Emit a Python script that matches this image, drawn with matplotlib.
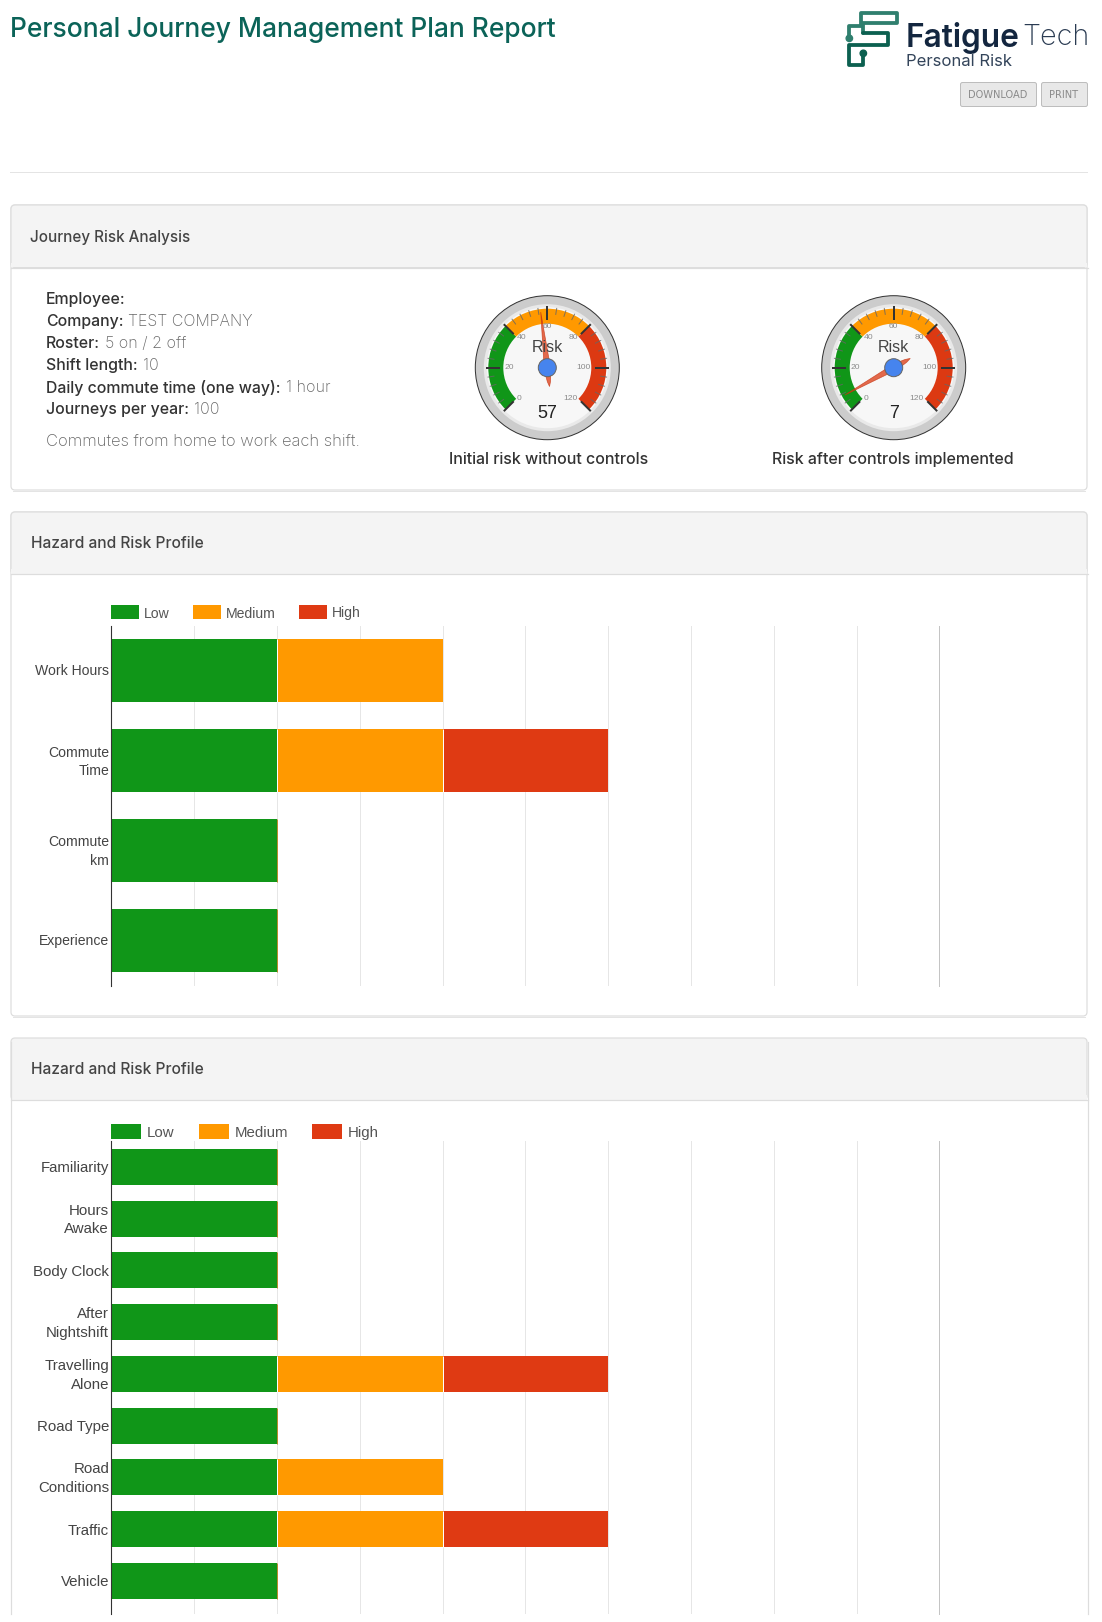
import numpy as np
import matplotlib
matplotlib.use("Agg")
import matplotlib.pyplot as plt
from matplotlib.patches import Rectangle, FancyBboxPatch, Circle, Wedge, Polygon
from matplotlib.transforms import ScaledTranslation

W, H = 1102, 1622
UI_FONT = "Inter"
CHART_FONT = "Liberation Sans"

# ---------- data ----------
page_title = "Personal Journey Management Plan Report"
panel_titles = ["Journey Risk Analysis", "Hazard and Risk Profile", "Hazard and Risk Profile"]
detail_labels = ["Employee:", "Company:", "Roster:", "Shift length:", "Daily commute time (one way):", "Journeys per year:"]
detail_values = ["", "TEST COMPANY", "5 on / 2 off", "10", "1 hour", "100"]
detail_note = "Commutes from home to work each shift."

gauge_titles = ["Initial risk without controls", "Risk after controls implemented"]
gauge_values = [57, 7]
gauge_ticks = [0, 20, 40, 60, 80, 100, 120]
gauge_bands = [(0, 40), (40, 80), (80, 120)]

legend_names = ["Low", "Medium", "High"]
x_ticks = list(range(11))

cats_a = ["Work Hours", "Commute\nTime", "Commute\nkm", "Experience"]
low_a = [2, 2, 2, 2]
med_a = [2, 2, 0, 0]
high_a = [0, 2, 0, 0]

cats_b = ["Familiarity", "Hours\nAwake", "Body Clock", "After\nNightshift", "Travelling\nAlone",
          "Road Type", "Road\nConditions", "Traffic", "Vehicle"]
low_b = [2, 2, 2, 2, 2, 2, 2, 2, 2]
med_b = [0, 0, 0, 0, 2, 0, 2, 2, 0]
high_b = [0, 0, 0, 0, 2, 0, 0, 2, 0]

GREEN, ORANGE, RED = "#109618", "#FF9900", "#DF3A13"
GAUGE_RED = "#DC3912"
SERIES_COLORS = [GREEN, ORANGE, RED]
BORDER = "#DDDDDD"
px = 0.72  # font px -> pt at dpi 100; also line widths

fig = plt.figure(figsize=(W / 100, H / 100), dpi=100, facecolor="white")
bg = fig.add_axes([0, 0, 1, 1])
bg.set_xlim(0, W)
bg.set_ylim(H, 0)
bg.axis("off")
renderer = fig.canvas.get_renderer()


def put(s, x0, x1, y, color, size=16, family=UI_FONT, weight="normal", ax=bg):
    """Place text at left x0, vertical centre y; if x1 is given, size it so that it ends at x1."""
    t = ax.text(x0, y, s, color=color, fontsize=size * px, family=family, weight=weight,
                ha="left", va="center_baseline")
    if x1 is not None:
        w = t.get_window_extent(renderer).width
        t.set_fontsize(size * px * (x1 - x0) / w)
    return t


# ---------- page header ----------
put(page_title, 10.5, 558, 27, "#0B6358", size=27, weight="medium")
bg.plot([10, 1087], [171.5, 171.5], color="#E4E4E4", lw=1 * px)

# logo
logo_x = [88, 88, 122, 122, 232, 232, 130, 130, 205, 205, 88, 88, 130, 130]
logo_y = [113, 78, 78, 40, 40, 68, 68, 100, 100, 135, 135, 195, 195, 160]
bg.plot([820 + v / 3 for v in logo_x[:8]], [v / 3 for v in logo_y[:8]], color="#2F7F6E", lw=3.8 * px,
        solid_joinstyle="round", solid_capstyle="round")
bg.plot([820 + v / 3 for v in logo_x[7:]], [v / 3 for v in logo_y[7:]], color="#0C6050", lw=3.8 * px,
        solid_joinstyle="round", solid_capstyle="round")
bg.add_patch(Circle((820 + 88 / 3, 115 / 3), 3.2, color="#2F7F6E"))
bg.add_patch(Circle((820 + 130 / 3, 160 / 3), 3.2, color="#0C6050"))
put("Fatigue", 906, 1020, 34.5, "#13263F", size=28, weight="semibold")
put("Tech", 1022, 1089, 34.5, "#2A3B52", size=28, weight="light")
put("Personal Risk", 906, 1012, 60.3, "#33445A", size=16)

# buttons
for (x0, x1, tx0, tx1, label) in [(960.5, 1036.5, 968, 1027, "DOWNLOAD"), (1041.5, 1087.5, 1049, 1078, "PRINT")]:
    bg.add_patch(FancyBboxPatch((x0 + 2, 84.5), x1 - x0 - 4, 20, boxstyle="round,pad=2,rounding_size=2",
                                fc="#E8E8E8", ec="#BDBDBD", lw=1 * px))
    put(label, tx0, tx1, 94.5, "#8A8A8A", size=9, family="DejaVu Sans")


# ---------- panels ----------
def panel(top, head_bottom, bottom, title, closed=True):
    if closed:
        bg.add_patch(FancyBboxPatch((11, top + 0.5), 1076, bottom - top - 1, boxstyle="round,pad=0,rounding_size=4",
                                    fc="white", ec=BORDER, lw=1.2 * px))
        bg.plot([13, 1085], [bottom, bottom], color="#E4E4E4", lw=1 * px)
    else:
        bg.plot([10.5, 10.5], [top + 4, bottom], color=BORDER, lw=1.2 * px)
        bg.plot([1087.5, 1087.5], [top + 4, bottom], color=BORDER, lw=1.2 * px)
    bg.add_patch(FancyBboxPatch((11, top + 0.5), 1076, head_bottom - top - 0.5,
                                boxstyle="round,pad=0,rounding_size=4", fc="#F4F4F4", ec=BORDER, lw=1.2 * px))
    bg.add_patch(Rectangle((11, head_bottom - 5), 1076, 4.5, fc="#F4F4F4", ec="none"))
    bg.plot([10.5, 1087.5], [head_bottom, head_bottom], color=BORDER, lw=1.2 * px)
    return title


panel(204.5, 267.5, 490.5, panel_titles[0])
panel(511.5, 574, 1016.5, panel_titles[1])
panel(1037.5, 1100, 1614, panel_titles[2], closed=False)
put(panel_titles[0], 30, 190.5, 236, "#444444", size=15, weight="medium")
put(panel_titles[1], 31, 205, 542.5, "#444444", size=15, weight="medium")
put(panel_titles[2], 31, 205, 1068.5, "#444444", size=15, weight="medium")

# ---------- details ----------
note = put(detail_note, 46, 359.3, 440, "#666666", weight="light")
value_px = note.get_fontsize() / px * 0.97
ref_lab = put(detail_labels[4], 46, 280, 298.3 + 22 * 4, "#333333", weight="medium")
label_px = ref_lab.get_fontsize() / px
ref_lab.remove()
for i, (lab, val) in enumerate(zip(detail_labels, detail_values)):
    y = 298.3 + 22 * i
    t = put(lab, 46, None, y, "#333333", size=label_px, weight="medium")
    if val:
        end = t.get_window_extent(renderer).x1
        put(val, end + 5, None, y, "#666666", size=value_px, weight="light")


# ---------- gauges ----------
def gauge_angle(v):
    return np.deg2rad(225 - v * 270 / 120)


def gauge(cx, cy, value):
    size = 160
    ax = fig.add_axes([(cx - size / 2) / W, 1 - (cy + size / 2) / H, size / W, size / H])
    ax.set_xlim(-size / 2, size / 2)
    ax.set_ylim(-size / 2, size / 2)
    ax.axis("off")
    ax.add_patch(Circle((0, 0), 72, fc="#CCCCCC", ec="#333333", lw=1 * px))
    ax.add_patch(Circle((0, 0), 63.5, fc="#E9E9E9", ec="none"))
    ax.add_patch(Circle((0, 0), 60.5, fc="#F7F7F7", ec="none"))
    for (a, b), c in zip(gauge_bands, [GREEN, ORANGE, GAUGE_RED]):
        ax.add_patch(Wedge((0, 0), 59, np.rad2deg(gauge_angle(b)), np.rad2deg(gauge_angle(a)), width=15, fc=c, ec="none"))
    for v in gauge_ticks[:-1]:
        for k in range(1, 5):
            th = gauge_angle(v + 4 * k)
            ax.plot([54 * np.cos(th), 60 * np.cos(th)], [54 * np.sin(th), 60 * np.sin(th)],
                    color="#666666", lw=1 * px, alpha=0.8)
    for v in gauge_ticks:
        th = gauge_angle(v)
        ax.plot([48.5 * np.cos(th), 60.5 * np.cos(th)], [48.5 * np.sin(th), 60.5 * np.sin(th)],
                color="#333333", lw=2 * px)
        align = "left" if v < 60 else ("right" if v > 60 else "center")
        r = 43 if v != 60 else 41
        ax.text(r * np.cos(th), r * np.sin(th), str(v), ha=align, va="center", color="#8A8A8A",
                fontsize=8.5 * px, family=CHART_FONT)
    ax.text(0, 20.5, "Risk", ha="center", va="center", color="#444444", fontsize=16 * px, family=CHART_FONT)
    ax.text(0, -45.5, str(value), ha="center", va="center", color="#222222", fontsize=18 * px, family=CHART_FONT)
    th = gauge_angle(value)
    u = np.array([np.cos(th), np.sin(th)])
    n = np.array([-u[1], u[0]])
    outline = [u * 56, u * 10 + n * 2.6, u * 0 + n * 3.6, -u * 14 + n * 1.6, -u * 19,
               -u * 14 - n * 1.6, -u * 0 - n * 3.6, u * 10 - n * 2.6]
    ax.add_patch(Polygon(outline, closed=True, fc=GAUGE_RED, ec="#C63310", lw=0.7 * px, alpha=0.75))
    ax.add_patch(Circle((0, 0), 9, fc="#4684EE", ec="#666666", lw=1 * px))


gauge(547.3, 367.7, gauge_values[0])
gauge(893.7, 367.7, gauge_values[1])
put(gauge_titles[0], 449, 648, 458, "#333333", weight="medium")
put(gauge_titles[1], 771.5, 1013, 458, "#333333", weight="medium")


# ---------- bar charts ----------
def chart(left, right, top, bottom, band, cats, low, med, high, font_px, line_sp, single_shift):
    n_units = (bottom - top) / band
    ax = fig.add_axes([left / W, 1 - bottom / H, (right - left) / W, (bottom - top) / H])
    ax.patch.set_alpha(0)
    ax.set_xlim(x_ticks[0], x_ticks[-1])
    ax.set_ylim(n_units - 0.5, -0.5)
    ax.set_xticks(x_ticks)
    ax.tick_params(axis="x", length=0, labelbottom=False)
    ax.grid(axis="x", color="#E6E6E6", lw=1 * px, zorder=0)
    ax.set_axisbelow(True)
    for s in ("top", "bottom"):
        ax.spines[s].set_visible(False)
    ax.spines["left"].set_color("#333333")
    ax.spines["left"].set_linewidth(1.1 * px)
    ax.spines["right"].set_color("#C4C4C4")
    ax.spines["right"].set_linewidth(1 * px)
    y = np.arange(len(cats))
    low, med, high = np.array(low), np.array(med), np.array(high)
    ax.barh(y, low, height=0.7, color=GREEN, lw=0, zorder=2)
    ax.barh(y, med, left=low, height=0.7, color=ORANGE, lw=0, zorder=3)
    ax.barh(y, high, left=low + med, height=0.7, color=RED, lw=0, zorder=4)
    # segment joins: white hairline, or a tan hairline where the next segment is empty
    ax.vlines(low[med > 0], y[med > 0] - 0.35, y[med > 0] + 0.35, color="white", lw=1 * px, zorder=5)
    ax.vlines(low[med == 0], y[med == 0] - 0.35, y[med == 0] + 0.35, color="#B98A2C", lw=1 * px, zorder=5)
    ax.vlines((low + med)[high > 0], y[high > 0] - 0.35, y[high > 0] + 0.35, color="white", lw=1 * px, zorder=5)
    ax.set_yticks(y)
    ax.set_yticklabels(cats, family=CHART_FONT, fontsize=font_px * px, color="#444444", linespacing=line_sp, ha="right")
    ax.tick_params(axis="y", length=0, pad=1.5)
    for lab, name in zip(ax.get_yticklabels(), cats):
        up = 2.5 if "\n" in name else single_shift
        lab.set_transform(lab.get_transform() + ScaledTranslation(0, up / 100, fig.dpi_scale_trans))
    return ax


chart(111.3, 939.3, 625.5, 985.5, 90, cats_a, low_a, med_a, high_a, 14, 1.37, 1.5)
chart(111.3, 939.3, 1141, 1614, 51.75, cats_b, low_b, med_b, high_b, 15, 1.44, 0)


def legend(y0, y1, swatches, texts, font_px):
    for name, c, (a, b), tx in zip(legend_names, SERIES_COLORS, swatches, texts):
        bg.add_patch(Rectangle((a, y0), b - a, y1 - y0, fc=c, ec="none"))
        bg.text(tx, (y0 + y1) / 2, name, ha="left", va="center_baseline", color="#555555",
                fontsize=font_px * px, family=CHART_FONT)


legend(605, 619, [(111, 139), (193, 221), (299, 327)], [144, 226, 332], 14)
legend(1124, 1139, [(111, 141), (199, 229), (312, 342)], [147, 235, 348], 15)

fig.savefig("out.png", dpi=100, facecolor="white")
